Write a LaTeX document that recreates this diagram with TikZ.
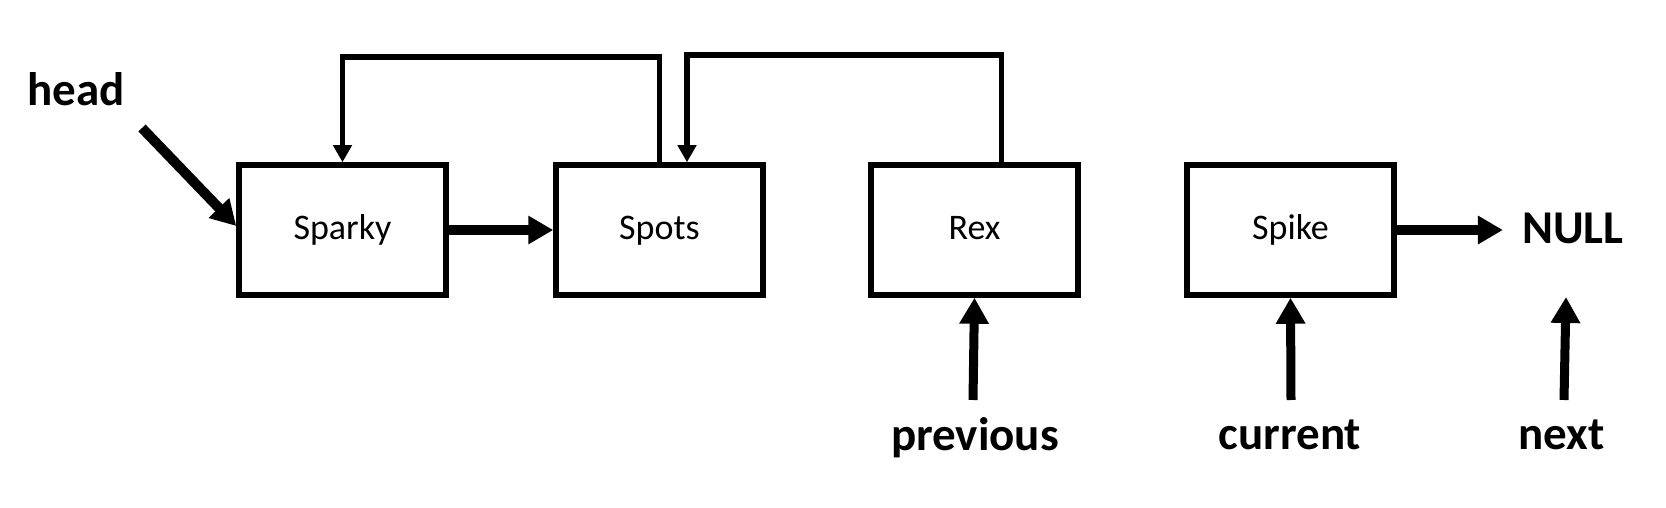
\documentclass[tikz,border=0pt]{standalone}
\usepackage{fontspec}
\setmainfont{Carlito}
\usetikzlibrary{arrows.meta}
\begin{document}
\begin{tikzpicture}[x=0.5pt,y=-0.5pt,
  box/.style={draw, line width=2.75pt, minimum width=103.5pt, minimum height=65pt,
    inner sep=0pt, font=\fontsize{18}{21}\selectfont, text height=12pt, text depth=3pt},
  lbl/.style={font=\bfseries\fontsize{23.5}{28}\selectfont, anchor=base, inner sep=0pt},
  thickarrow/.style={line width=5pt, -{Triangle[length=12.5pt,width=13.5pt]}},
  looparrow/.style={line width=2.6pt, -{Triangle[length=8.5pt,width=9pt]}},
  ptr/.style={line width=4.5pt, -{Triangle[length=13pt,width=14pt]}}]
\useasboundingbox (0,0) rectangle (1666,508);
% list nodes
\node[box] (sparky) at (342.5,230) {Sparky};
\node[box] (spots)  at (659.5,230) {Spots};
\node[box] (rex)    at (974.5,230) {Rex};
\node[box] (spike)  at (1290.5,230) {Spike};
% labels
\node[lbl] (head) at (76,105) {head};
\node[lbl] (null) at (1573,243) {NULL};
\node[lbl] (previous) at (975,450) {previous};
\node[lbl] (current) at (1290,449) {current};
\node[lbl] (next) at (1561.5,449) {next};
% helper coordinates
\coordinate (headstart) at (142,128);
\coordinate (top1) at (0,57);
\coordinate (top2) at (0,55);
\coordinate (s2) at ([xshift=13.75pt]spots.north);
\coordinate (r2) at ([xshift=13.5pt]rex.north);
\coordinate (nulltip) at ([xshift=-9.5pt]null.west);
\coordinate (prevstart) at (973,400);
\coordinate (curstart) at (1291,400);
\coordinate (nextstart) at (1564,400);
\coordinate (nexttip) at (1566,297);
% connectors
\draw[thickarrow] (headstart) -- ([yshift=2pt]sparky.west);
\draw[thickarrow] (sparky.east) -- (spots.west);
\draw[thickarrow] (spike.east) -- (spike.east -| nulltip);
\draw[looparrow] (spots.north) -- (spots.north |- top1) -- (sparky.north |- top1) -- (sparky.north);
\draw[looparrow] (r2) -- (r2 |- top2) -- (s2 |- top2) -- (s2);
\draw[ptr] (prevstart) -- (rex.south);
\draw[ptr] (curstart) -- (spike.south);
\draw[ptr] (nextstart) -- (nexttip);
\end{tikzpicture}
\end{document}
